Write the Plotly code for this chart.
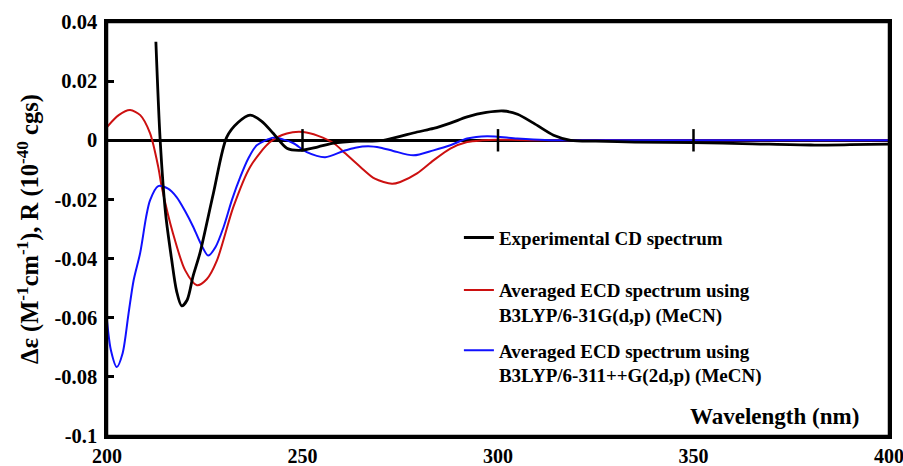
import plotly.graph_objects as go

# ---- data ----
exp_x = [212.5, 213.6, 215.0, 216.5, 217.8, 219.1, 220.5, 222.0, 223.8, 227.2, 230.6,
         233.5, 236.6, 239.5, 242.5, 246.0, 249.4, 254.0, 258.0, 264.0, 270.7, 279.3,
         283.5, 287.8, 292.1, 297.0, 301.4, 305.0, 309.1, 314.2, 318.6, 325.0, 335.0,
         350.0, 365.0, 380.0, 390.0, 400.0]
exp_y = [0.0333, 0.0, -0.025, -0.040, -0.051, -0.056, -0.054, -0.046, -0.038, -0.018, 0.001,
         0.006, 0.0085, 0.0065, 0.0024, -0.0027, -0.0034, -0.0022, -0.001, -0.0003, 0.0, 0.0028,
         0.004, 0.0058, 0.0079, 0.0094, 0.0099, 0.0088, 0.0058, 0.0017, 0.0, -0.0003, -0.0006,
         -0.0008, -0.0012, -0.0016, -0.0015, -0.0013]

red_x = [200, 203, 205.9, 208.5, 211, 213.1, 214, 216.9, 220, 223, 225.5, 228.1, 232.3,
         236.6, 241.7, 246, 250.2, 254, 258, 261, 264.8, 268.5, 272.9, 275, 279.3, 283.5,
         287.8, 292.1, 296, 299.8, 310, 330, 360, 400]
red_y = [0.0045, 0.0085, 0.0102, 0.0085, 0.0024, -0.009, -0.0158, -0.0316, -0.044, -0.049,
         -0.047, -0.0407, -0.0226, -0.009, -0.0006, 0.0023, 0.0028, 0.0015, -0.001, -0.0045,
         -0.009, -0.013, -0.0147, -0.0141, -0.0112, -0.0068, -0.0028, -0.0006, 0.0, 0.0002,
         0.0, 0.0, 0.0, 0.0]

blue_x = [200, 201, 202.5, 204, 205.5, 206.8, 208.5, 210, 211, 213.1, 215.5, 217.8, 220,
          222.1, 224, 225.9, 227.8, 229.8, 232, 234.1, 236.2, 238.3, 242.6, 245, 247.7, 251.1,
          255.8, 260.5, 263.5, 266.8, 270, 273.2, 278.4, 283.5, 287.8, 292.1, 297.2, 304.9,
          312, 330, 360, 400]
blue_y = [-0.061, -0.071, -0.0767, -0.072, -0.0587, -0.0474, -0.038, -0.026, -0.0203, -0.0155,
          -0.0163, -0.0192, -0.024, -0.0294, -0.035, -0.039, -0.036, -0.0294, -0.020, -0.0124,
          -0.006, -0.0017, 0.0009, 0.0003, -0.001, -0.004, -0.0057, -0.0036, -0.0025, -0.002,
          -0.0025, -0.0036, -0.0051, -0.0034, -0.0017, 0.0006, 0.0014, 0.0006, 0.0001, 0.0,
          0.0, 0.0]

x_tickvals = [200, 250, 300, 350, 400]
x_ticktext = ["200", "250", "300", "350", "400"]
zero_tick_x = [250, 300, 350]
zero_tick_y = [0, 0, 0]
y_tickvals = [0.04, 0.02, 0.0, -0.02, -0.04, -0.06, -0.08, -0.1]
y_ticktext = ["0.04", "0.02", "0", "-0.02", "-0.04", "-0.06", "-0.08", "-0.1"]

names = ["Experimental CD spectrum<br>&nbsp;",
         "Averaged ECD spectrum using<br>B3LYP/6-31G(d,p) (MeCN)",
         "Averaged ECD spectrum using<br>B3LYP/6-311++G(2d,p) (MeCN)"]

FONT = "'Liberation Serif', 'Times New Roman', serif"

fig = go.Figure()
fig.add_trace(go.Scatter(x=red_x, y=red_y, mode="lines", name=names[1],
                         line=dict(color="#cc1010", width=2, shape="spline", smoothing=0.8),
                         legendrank=2, legendgroup="a"))
fig.add_trace(go.Scatter(x=blue_x, y=blue_y, mode="lines", name=names[2],
                         line=dict(color="#1010ff", width=2, shape="spline", smoothing=0.8),
                         legendrank=3, legendgroup="b"))
fig.add_trace(go.Scatter(x=exp_x, y=exp_y, mode="lines", name=names[0],
                         line=dict(color="black", width=2.8, shape="spline", smoothing=0.8),
                         legendrank=1, legendgroup="a"))
fig.add_trace(go.Scatter(x=zero_tick_x, y=zero_tick_y, mode="markers", showlegend=False,
                         hoverinfo="skip",
                         marker=dict(symbol="line-ns-open", size=16, color="black",
                                     line=dict(color="black", width=2.5))))

fig.update_layout(
    width=903, height=466,
    margin=dict(l=107, r=14, t=22, b=30),
    paper_bgcolor="white", plot_bgcolor="white",
    font=dict(family=FONT, size=20, color="black", weight="bold"),
    showlegend=True,
    legend=dict(x=0.45, y=0.525, xanchor="left", yanchor="top",
                bgcolor="rgba(0,0,0,0)", font=dict(family=FONT, size=19, weight="bold"),
                valign="top", tracegroupgap=8, itemwidth=30, traceorder="grouped"),
    annotations=[dict(text="Wavelength (nm)", xref="paper", yref="paper",
                      x=0.964, y=0.046, xanchor="right", yanchor="middle", showarrow=False,
                      font=dict(family=FONT, size=23, weight="bold"))],
    shapes=[dict(type="rect", xref="paper", yref="paper", x0=0, x1=1, y0=0, y1=1,
                 line=dict(color="black", width=2.5), fillcolor="rgba(0,0,0,0)",
                 layer="above")],
)
fig.update_xaxes(range=[200, 400], tickvals=x_tickvals, ticktext=x_ticktext,
                 showgrid=False, zeroline=False, ticks="", showline=True, mirror=True,
                 linecolor="black", linewidth=2.5, tickfont=dict(family=FONT, size=20),
                 ticklabelstandoff=0, ticklabeloverflow="allow", automargin=False)
fig.update_yaxes(range=[-0.1, 0.04], tickvals=y_tickvals, ticktext=y_ticktext,
                 showgrid=False, zeroline=True, zerolinecolor="black", zerolinewidth=3,
                 ticks="inside", ticklen=7, tickwidth=2.5, tickcolor="black",
                 showline=True, mirror=True, linecolor="black", linewidth=2.5,
                 tickfont=dict(family=FONT, size=20.5), ticklabelstandoff=3, automargin=False,
                 title=dict(text="Δε (M<sup>-1</sup>cm<sup>-1</sup>), R (10<sup>-40</sup> cgs)",
                            font=dict(family=FONT, size=24.5), standoff=9))

fig.write_html("out.html", config={"displayModeBar": False},
               post_script="document.body.style.margin='0';document.body.style.overflow='hidden';")
